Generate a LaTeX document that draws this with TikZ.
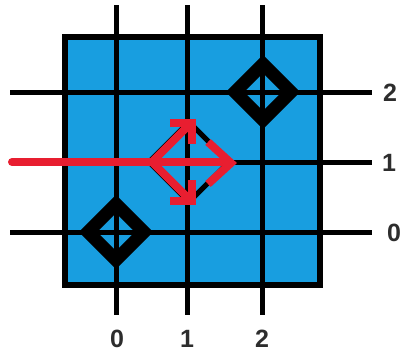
\documentclass[tikz,border=0pt]{standalone}
\usepackage{fontspec}
\setmainfont{Liberation Sans}
\definecolor{cellblue}{RGB}{24,158,224}
\definecolor{arrowred}{RGB}{232,30,48}
\definecolor{labelgray}{RGB}{45,45,45}
\begin{document}
\begin{tikzpicture}[x=1pt,y=-1pt,
  gridline/.style={line width=5pt,black},
  frame/.style={line width=6pt,black,line join=miter},
  qubit/.style={line width=13pt,black,line join=miter},
  ghost/.style={line width=5pt,black,line join=miter},
  redarrow/.style={line width=8pt,arrowred,line join=miter},
  lab/.style={font=\fontsize{25}{25}\selectfont\bfseries,text=labelgray,inner sep=0pt}]
\useasboundingbox (0,0) rectangle (408,354);
% blue plate
\fill[cellblue] (65,37) rectangle (320,285);
% grid lines
\foreach \x in {116,187,262} \draw[gridline] (\x,5) -- (\x,315);
\foreach \y in {92,162,232} \draw[gridline] (10,\y) -- (372,\y);
\draw[frame] (65,37) rectangle (320,285);
% labels
\node[lab] (r2) at (390,93) {2};
\node[lab] (r1) at (389,163) {1};
\node[lab] (r0) at (394,233) {0};
\node[lab] (c0) at (117,339) {0};
\node[lab] (c1) at (187,339) {1};
\node[lab] (c2) at (262,339) {2};
% diamonds (qubits)
\draw[qubit] (116,204) -- (144,232) -- (116,260) -- (88,232) -- cycle;
\draw[qubit] (263,64) -- (291,92) -- (263,120) -- (235,92) -- cycle;
\draw[ghost] (189,122) -- (229,162) -- (189,202) -- (149,162) -- cycle;
% red arrows
\draw[redarrow,line cap=round] (12,162) -- (222,162);
\draw[redarrow] (208,142) -- (231,163) -- (208,184);
\draw[redarrow] (188,126) -- (152,162) -- (188,198);
\draw[redarrow] (170,123) -- (192,123) -- (192,144);
\draw[redarrow] (170,201) -- (192,201) -- (192,180);
\end{tikzpicture}
\end{document}
